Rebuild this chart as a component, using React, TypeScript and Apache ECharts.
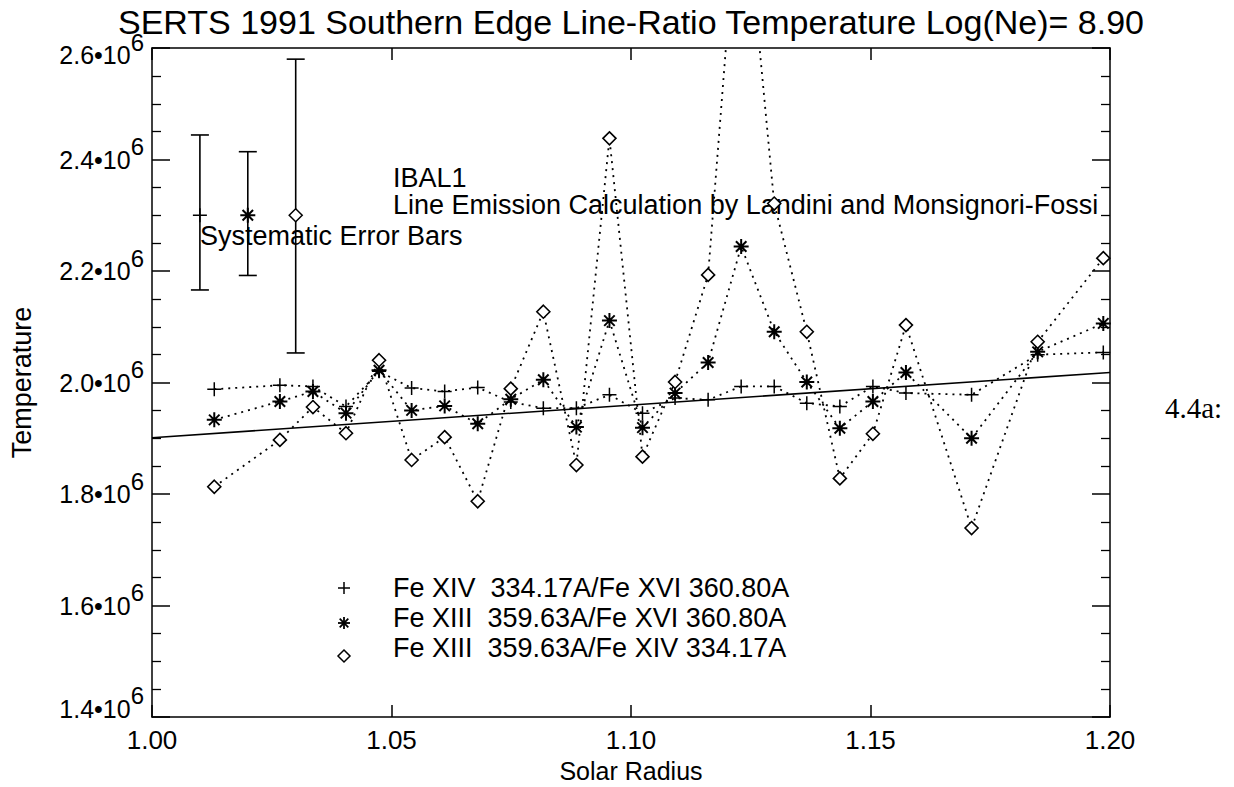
import React, { useEffect, useRef } from 'react';
import * as echarts from 'echarts';

// ---- data ----
const radius = [1.0130, 1.0267, 1.0336, 1.0405, 1.0474, 1.0542, 1.0611, 1.0680, 1.0749, 1.0817, 1.0886, 1.0955, 1.1024, 1.1092, 1.1161, 1.1230, 1.1299, 1.1367, 1.1436, 1.1505, 1.1574, 1.1711, 1.1849, 1.1986];
const tFeXIV_FeXVI = [1.988e6, 1.995e6, 1.993e6, 1.957e6, 2.020e6, 1.990e6, 1.984e6, 1.991e6, 1.965e6, 1.954e6, 1.954e6, 1.978e6, 1.945e6, 1.972e6, 1.969e6, 1.993e6, 1.993e6, 1.963e6, 1.957e6, 1.993e6, 1.981e6, 1.978e6, 2.050e6, 2.054e6];
const tFeXIII_FeXVI = [1.933e6, 1.966e6, 1.984e6, 1.945e6, 2.022e6, 1.950e6, 1.958e6, 1.926e6, 1.970e6, 2.005e6, 1.920e6, 2.111e6, 1.919e6, 1.981e6, 2.036e6, 2.244e6, 2.091e6, 2.001e6, 1.918e6, 1.966e6, 2.018e6, 1.900e6, 2.055e6, 2.106e6];
const tFeXIII_FeXIV = [1.813e6, 1.897e6, 1.956e6, 1.909e6, 2.040e6, 1.861e6, 1.902e6, 1.787e6, 1.989e6, 2.127e6, 1.852e6, 2.438e6, 1.867e6, 2.001e6, 2.193e6, 2.950e6, 2.321e6, 2.091e6, 1.828e6, 1.908e6, 2.103e6, 1.739e6, 2.073e6, 2.223e6];

const fitX = [1.0, 1.2];
const fitY = [1.901e6, 2.018e6];

const errX = [1.01, 1.02, 1.03];
const errCenter = [2.3e6, 2.3e6, 2.3e6];
const errHigh = [2.444e6, 2.414e6, 2.58e6];
const errLow = [2.166e6, 2.192e6, 2.053e6];

const xMin = 1.0, xMax = 1.2, xStep = 0.05;
const yMin = 1.4e6, yMax = 2.6e6, yStep = 0.2e6;

const seriesNames = [
  'Fe XIV  334.17A/Fe XVI 360.80A',
  'Fe XIII  359.63A/Fe XVI 360.80A',
  'Fe XIII  359.63A/Fe XIV 334.17A',
];

const titleText = 'SERTS 1991 Southern Edge Line-Ratio Temperature Log(Ne)= 8.90';
const xAxisTitle = 'Solar Radius';
const yAxisTitle = 'Temperature';

// ---- styling ----
const FONT = '"Liberation Sans", Arial, Helvetica, sans-serif';
const BLACK = '#000';
const PLUS = 'path://M0,6 L12,6 M6,0 L6,12';
const STAR = 'path://M0,6 L12,6 M6,0 L6,12 M1.8,1.8 L10.2,10.2 M10.2,1.8 L1.8,10.2';
const DIAMOND = 'path://M6,0 L12,6 L6,12 L0,6 Z';

function pairs(xs: number[], ys: number[]) {
  return xs.map((x, i) => [x, ys[i]]);
}

function textEl(text: string, x: number, y: number, size: number, family = FONT, align = 'left') {
  return {
    type: 'text',
    x,
    y,
    silent: true,
    style: {
      text,
      fontSize: size,
      fontFamily: family,
      fill: BLACK,
      align,
      verticalAlign: 'middle',
      textAlign: align,
      textVerticalAlign: 'middle',
    },
  };
}

function lineEl(x1: number, y1: number, x2: number, y2: number, w = 1.5) {
  return { type: 'line', silent: true, shape: { x1, y1, x2, y2 }, style: { stroke: BLACK, lineWidth: w } };
}

function legendGlyph(kind: number, cx: number, cy: number) {
  const h = 6;
  if (kind === 0) return [lineEl(cx - h, cy, cx + h, cy), lineEl(cx, cy - h, cx, cy + h)];
  if (kind === 1) {
    const d = h * 0.72;
    return [
      lineEl(cx - h, cy, cx + h, cy, 1.8), lineEl(cx, cy - h, cx, cy + h, 1.8),
      lineEl(cx - d, cy - d, cx + d, cy + d, 1.8), lineEl(cx + d, cy - d, cx - d, cy + d, 1.8),
    ];
  }
  return [{
    type: 'polygon', silent: true,
    shape: { points: [[cx, cy - h], [cx + h, cy], [cx, cy + h], [cx - h, cy]] },
    style: { fill: '#fff', stroke: BLACK, lineWidth: 1.5 },
  }];
}

export default function App() {
  const ref = useRef<HTMLDivElement>(null);

  useEffect(() => {
    if (!ref.current) return;
    const chart = echarts.init(ref.current, undefined, { renderer: 'svg' });

    const axisLineStyle = { color: BLACK, width: 1.5 };
    const baseX = {
      type: 'value', min: xMin, max: xMax, interval: xStep,
      axisLine: { show: true, onZero: false, lineStyle: axisLineStyle },
      axisTick: { show: true, inside: true, length: 12, lineStyle: axisLineStyle },
      splitLine: { show: false },
    };
    const baseY = {
      type: 'value', min: yMin, max: yMax, interval: yStep,
      axisLine: { show: true, onZero: false, lineStyle: axisLineStyle },
      axisTick: { show: true, inside: true, length: 18, lineStyle: axisLineStyle },
      minorTick: { show: true, splitNumber: 4, length: 9, lineStyle: { color: BLACK, width: 1.3 } },
      splitLine: { show: false },
      minorSplitLine: { show: false },
    };

    const dotted = (width = 1.8) => ({ color: BLACK, width, type: [2, 5] as any });

    const legendX = 344;
    const legendTextX = 393;
    const legendMarkY = [588, 623, 656];
    const legendTextY = [588, 618, 648];

    const graphics: any[] = [
      textEl(titleText, 631, 22, 34, FONT, 'center'),
      textEl(xAxisTitle, 631, 771, 25, FONT, 'center'),
      textEl('IBAL1', 393, 178, 27),
      textEl('Line Emission Calculation by Landini and Monsignori-Fossi', 393, 205, 27),
      textEl('Systematic Error Bars', 200, 236, 27),
      textEl('4.4a:', 1165, 408, 29, '"Liberation Serif", "Times New Roman", serif'),
    ];
    seriesNames.forEach((n, i) => {
      graphics.push(...legendGlyph(i, legendX, legendMarkY[i]));
      graphics.push(textEl(n, legendTextX, legendTextY[i], 27));
    });

    const option: any = {
      animation: false,
      backgroundColor: '#fff',
      grid: { left: 152, right: 124, top: 48, bottom: 70, containLabel: false, outerBoundsMode: 'none' },
      xAxis: [
        {
          ...baseX, position: 'bottom',
          axisLabel: {
            show: true, margin: 10, fontSize: 26, fontFamily: FONT, color: BLACK,
            formatter: (v: number) => v.toFixed(2),
          },
        },
        { ...baseX, position: 'top', axisLabel: { show: false } },
      ],
      yAxis: [
        {
          ...baseY, position: 'left',
          name: yAxisTitle, nameLocation: 'middle', nameGap: 117,
          nameTextStyle: { fontSize: 27, fontFamily: FONT, color: BLACK },
          axisLabel: {
            show: true, margin: 8,
            formatter: (v: number) => {
              const body = `{a|${(v / 1e6).toFixed(1)}\u202210}{s|6}`;
              if (Math.abs(v - yMax) < 1) return `{e1| }\n${body}`;
              if (Math.abs(v - yMin) < 1) return `${body}\n{e2| }`;
              return body;
            },
            rich: {
              a: { fontSize: 25, fontFamily: FONT, color: BLACK, lineHeight: 25, padding: [13, 0, 13, 0] },
              s: { fontSize: 24, fontFamily: FONT, color: BLACK, lineHeight: 25, padding: [0, 0, 26, 0] },
              e1: { fontSize: 10, lineHeight: 14 },
              e2: { fontSize: 10, lineHeight: 17 },
            },
          },
        },
        { ...baseY, position: 'right', axisLabel: { show: false } },
      ],
      graphic: graphics,
      series: [
        {
          type: 'line', name: 'fit', data: pairs(fitX, fitY), symbol: 'none',
          lineStyle: { color: BLACK, width: 1.6 }, z: 2, silent: true,
        },
        {
          type: 'line', name: seriesNames[0], data: pairs(radius, tFeXIV_FeXVI),
          symbol: PLUS, symbolSize: 14,
          itemStyle: { color: BLACK, borderColor: BLACK, borderWidth: 1.5 },
          lineStyle: dotted(), z: 3, clip: true,
        },
        {
          type: 'line', name: seriesNames[1], data: pairs(radius, tFeXIII_FeXVI),
          symbol: STAR, symbolSize: 15,
          itemStyle: { color: BLACK, borderColor: BLACK, borderWidth: 2 },
          lineStyle: dotted(), z: 3, clip: true,
        },
        {
          type: 'line', name: seriesNames[2], data: pairs(radius, tFeXIII_FeXIV),
          symbol: DIAMOND, symbolSize: 13,
          itemStyle: { color: '#fff', borderColor: BLACK, borderWidth: 1.6 },
          lineStyle: dotted(), z: 4, clip: true,
        },
        {
          type: 'custom', name: 'errorbars',
          data: errX.map((x, i) => [x, errLow[i], errHigh[i]]),
          encode: { x: 0, y: [1, 2] },
          renderItem: (_p: any, api: any) => {
            const x = api.value(0);
            const lo = api.coord([x, api.value(1)]);
            const hi = api.coord([x, api.value(2)]);
            const w = 9;
            const st = { stroke: BLACK, lineWidth: 1.6 };
            return {
              type: 'group',
              children: [
                { type: 'line', shape: { x1: lo[0], y1: lo[1], x2: hi[0], y2: hi[1] }, style: st },
                { type: 'line', shape: { x1: hi[0] - w, y1: hi[1], x2: hi[0] + w, y2: hi[1] }, style: st },
                { type: 'line', shape: { x1: lo[0] - w, y1: lo[1], x2: lo[0] + w, y2: lo[1] }, style: st },
              ],
            };
          },
          z: 5, silent: true,
        },
        {
          type: 'scatter', name: 'errcenters',
          data: errX.map((x, i) => ({
            value: [x, errCenter[i]],
            symbol: [PLUS, STAR, DIAMOND][i],
            symbolSize: [14, 15, 13][i],
            itemStyle: {
              color: i === 2 ? '#fff' : BLACK, borderColor: BLACK, borderWidth: i === 1 ? 2 : 1.5, opacity: 1,
            },
          })),
          z: 6, silent: true,
        },
      ],
    };

    chart.setOption(option);
    return () => chart.dispose();
  }, []);

  return (
    <div
      ref={ref}
      style={{ position: 'fixed', left: 0, top: 0, width: 1234, height: 787, background: '#fff' }}
    />
  );
}
